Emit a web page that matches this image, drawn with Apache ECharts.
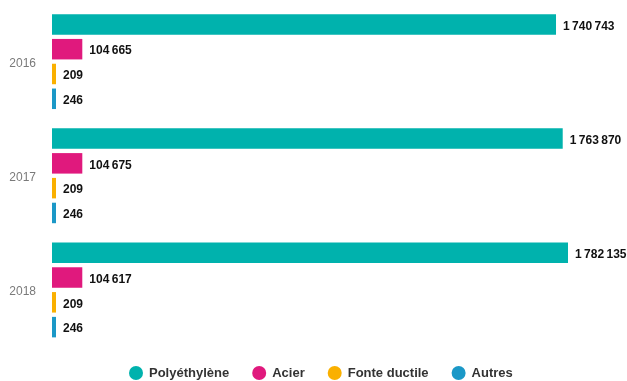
<!DOCTYPE html>
<html>
<head>
<meta charset="utf-8">
<script src="https://cdn.jsdelivr.net/npm/echarts@6/dist/echarts.min.js"></script>
<style>
  html, body { margin: 0; padding: 0; background: #fff; }
  #chart { width: 627px; height: 381px; }
</style>
</head>
<body>
<div id="chart"></div>
<script>
// Network length by pipe material, per year
const years = ['2016', '2017', '2018'];
const polyethylene = [1740743, 1763870, 1782135];
const acier = [104665, 104675, 104617];
const fonteDuctile = [209, 209, 209];
const autres = [246, 246, 246];

const seriesNames = ['Polyéthylène', 'Acier', 'Fonte ductile', 'Autres'];
const seriesData = [polyethylene, acier, fonteDuctile, autres];
const colors = ['#00b2ad', '#e0197d', '#fab000', '#1b98c7'];

const FONT = '"Liberation Sans", Arial, Helvetica, sans-serif';

// French grouping with a thin space between thousands
function formatThousands(v) {
  return String(v).replace(/\B(?=(\d{3})+(?!\d))/g, '\u2009');
}

const chart = echarts.init(document.getElementById('chart'), null, { renderer: 'canvas' });

chart.setOption({
  animation: false,
  color: colors,
  textStyle: { fontFamily: FONT },
  grid: { left: 52, right: 59, top: 4.5, bottom: 34, containLabel: false },
  xAxis: {
    type: 'value',
    min: 0,
    max: function (v) { return v.max; },
    axisLine: { show: false },
    axisTick: { show: false },
    axisLabel: { show: false },
    splitLine: { show: false }
  },
  yAxis: {
    type: 'category',
    data: years,
    inverse: true,
    axisLine: { show: false },
    axisTick: { show: false },
    axisLabel: {
      color: '#7a7a7a', fontSize: 12, margin: 16, fontFamily: FONT,
      verticalAlign: 'top', lineHeight: 4
    },
    splitLine: { show: false }
  },
  legend: {
    left: 124,
    top: 361,
    icon: 'circle',
    itemWidth: 16,
    itemHeight: 14,
    itemGap: 23,
    textStyle: { color: '#333', fontSize: 13, fontWeight: 'bold', fontFamily: FONT, padding: [2, 0, 0, 0] },
    data: seriesNames
  },
  series: seriesNames.map(function (name, i) {
    return {
      name: name,
      type: 'bar',
      data: seriesData[i],
      barWidth: 20.5,
      barGap: '21%',
      barMinHeight: 4,
      itemStyle: { color: colors[i] },
      label: {
        show: true,
        position: 'right',
        distance: 7,
        offset: [0, 2],
        color: '#111',
        fontSize: 12,
        fontWeight: 'bold',
        fontFamily: FONT,
        formatter: function (p) { return formatThousands(p.value); }
      }
    };
  })
});
</script>
</body>
</html>
